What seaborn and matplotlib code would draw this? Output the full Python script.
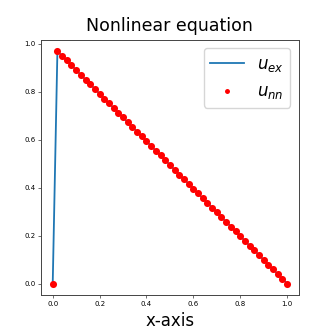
import matplotlib
matplotlib.use("Agg")
import matplotlib.pyplot as plt
import seaborn as sns
import pandas as pd

x_vals = [0.00, 0.02, 0.04, 0.06, 0.08, 0.10, 0.12, 0.14, 0.16, 0.18, 0.20,
          0.22, 0.24, 0.26, 0.28, 0.30, 0.32, 0.34, 0.36, 0.38, 0.40,
          0.42, 0.44, 0.46, 0.48, 0.50, 0.52, 0.54, 0.56, 0.58, 0.60,
          0.62, 0.64, 0.66, 0.68, 0.70, 0.72, 0.74, 0.76, 0.78, 0.80,
          0.82, 0.84, 0.86, 0.88, 0.90, 0.92, 0.94, 0.96, 0.98, 1.00]
u_ex = [0.000, 0.970, 0.950, 0.931, 0.911, 0.891, 0.871, 0.851, 0.832, 0.812, 0.792,
        0.772, 0.752, 0.733, 0.713, 0.693, 0.673, 0.653, 0.634, 0.614, 0.594,
        0.574, 0.554, 0.535, 0.515, 0.495, 0.475, 0.455, 0.436, 0.416, 0.396,
        0.376, 0.356, 0.337, 0.317, 0.297, 0.277, 0.257, 0.238, 0.218, 0.198,
        0.178, 0.158, 0.139, 0.119, 0.099, 0.079, 0.059, 0.040, 0.020, 0.000]
u_nn = [0.000, 0.970, 0.950, 0.931, 0.911, 0.891, 0.871, 0.851, 0.832, 0.812, 0.792,
        0.772, 0.752, 0.733, 0.713, 0.693, 0.673, 0.653, 0.634, 0.614, 0.594,
        0.574, 0.554, 0.535, 0.515, 0.495, 0.475, 0.455, 0.436, 0.416, 0.396,
        0.376, 0.356, 0.337, 0.317, 0.297, 0.277, 0.257, 0.238, 0.218, 0.198,
        0.178, 0.158, 0.139, 0.119, 0.099, 0.079, 0.059, 0.040, 0.020, 0.000]

df = pd.DataFrame({"x": x_vals, "u_ex": u_ex, "u_nn": u_nn})

fig = plt.figure(figsize=(3.32, 3.32), dpi=100)
ax = fig.add_axes([0.1235, 0.111, 0.7765, 0.77])

sns.lineplot(data=df, x="x", y="u_ex", ax=ax, color="#1f77b4", linewidth=1.3,
             label=r"$u_{ex}$", sort=False)
sns.scatterplot(data=df, x="x", y="u_nn", ax=ax, color="red", s=26,
                linewidth=0, label=r"$u_{nn}$", zorder=3)

ax.set_title("Nonlinear equation", fontsize=12.5)
ax.set_xlabel("x-axis", fontsize=12)
ax.set_ylabel("")
ax.tick_params(labelsize=5, length=2, width=0.5, pad=2, color="#333333")
for s in ax.spines.values():
    s.set_linewidth(0.7)
    s.set_color("#444444")
ax.set_xticks([0.0, 0.2, 0.4, 0.6, 0.8, 1.0])
ax.set_yticks([0.0, 0.2, 0.4, 0.6, 0.8, 1.0])
ax.legend(loc="upper right", fontsize=12, markerscale=0.7)

fig.savefig("out.png", dpi=100)
